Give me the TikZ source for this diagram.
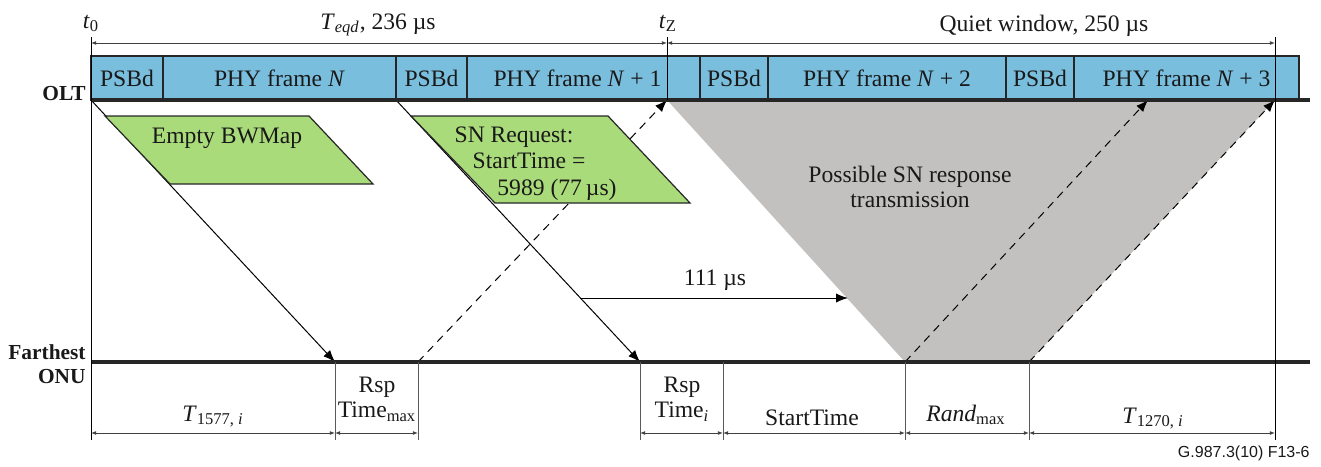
\documentclass[tikz,border=0pt]{standalone}
\usepackage{fontspec}
\setmainfont{Liberation Serif}
\newfontfamily\footfont{Liberation Sans}
\usetikzlibrary{arrows.meta}
\definecolor{barblue}{RGB}{122,190,222}
\definecolor{mapgreen}{RGB}{170,219,122}
\definecolor{zonegray}{RGB}{194,193,191}
\begin{document}
\begin{tikzpicture}[x=0.5pt,y=-0.5pt,
  every node/.style={font=\fontsize{11.8}{12.5}\selectfont,inner sep=0pt,text=black!90},
  cell/.style={draw=black!85,fill=barblue,line width=0.6pt,outer sep=0pt,minimum height=22pt,text depth=0pt,anchor=west},
  side/.style={font=\fontsize{10.7}{12}\selectfont\bfseries,align=right},
  sig/.style={-{Latex[length=6pt,width=4.6pt]},line width=0.5pt},
  dim/.style={{Latex[length=2.6pt,width=2pt]}-{Latex[length=2.6pt,width=2pt]},line width=0.45pt,black!75},
  msg/.style={draw=black!85,fill=mapgreen,line width=0.6pt},
  axis/.style={line width=1.6pt,black!85}]
\useasboundingbox (0,0) rectangle (1321,466);
\coordinate (t0top) at (91,37); \coordinate (olt0) at (91,100); \coordinate (t0bot) at (91,440);
\coordinate (tztop) at (667,37); \coordinate (tz) at (667,100);
\coordinate (qtop) at (1275,37); \coordinate (qend) at (1275,100); \coordinate (qbot) at (1275,440);
\coordinate (sn) at (396,100); \coordinate (q1) at (1148,100); \coordinate (oltend) at (1310,100);
\coordinate (onu0) at (91,362); \coordinate (arr1) at (335,362); \coordinate (rsp1) at (418,362);
\coordinate (arr2) at (640,362); \coordinate (rsp2) at (723,362); \coordinate (rnd0) at (905,362);
\coordinate (rnd1) at (1029,362); \coordinate (onuend) at (1310,362);
\coordinate (topy) at (0,43); \coordinate (dimy) at (0,433); \coordinate (tickend) at (0,440);
\coordinate (m1) at (580,298); \coordinate (m2) at (848,298);
\fill[zonegray] (tz) -- (qend) -- (rnd1) -- (rnd0) -- cycle;
\node[anchor=north,align=center] (possible) at (910,166) {Possible SN response\\transmission};
\draw[sig] (olt0) -- (arr1); \draw[sig] (sn) -- (arr2); \draw[sig] (m1) -- (m2);
\draw[sig,dash pattern=on 4pt off 3pt] (rsp1) -- (tz);
\draw[sig,dash pattern=on 4pt off 3pt] (rnd0) -- (q1);
\draw[sig,dash pattern=on 4pt off 3pt] (rnd1) -- (qend);
\filldraw[msg] (105,116) -- (309,116) -- (373,184) -- (170,184) -- cycle;
\filldraw[msg] (411,116) -- (608,116) -- (690,203) -- (495,203) -- cycle;
\node[anchor=base] (bwmap) at (227,143) {Empty BWMap};
\node[anchor=base] (snreq) at (514,142) {SN Request:};
\node[anchor=base] (snstart) at (529,168) {StartTime =};
\node[anchor=base] (snval) at (557,195) {5989 (77\,µs)};
\node[anchor=base] (delay) at (715,285) {111 µs};
\node[cell,minimum width=36pt] (psbA) at (olt0 |- 0,78) {PSBd};
\node[cell,minimum width=116.5pt] (frameA) at (psbA.east) {PHY frame \textit{N}};
\node[cell,minimum width=35.5pt] (psbB) at (frameA.east) {PSBd};
\node[cell,minimum width=116.5pt] (frameB) at (psbB.east) {\hspace{-6pt}PHY frame \textit{N} + 1};
\node[cell,minimum width=34pt] (psbC) at (frameB.east) {PSBd};
\node[cell,minimum width=119pt] (frameC) at (psbC.east) {PHY frame \textit{N} + 2};
\node[cell,minimum width=34pt] (psbD) at (frameC.east) {PSBd};
\node[cell,minimum width=112.5pt] (frameD) at (psbD.east) {PHY frame \textit{N} + 3};
\draw[axis] (olt0) -- (oltend); \draw[axis] (onu0) -- (onuend);
\draw[line width=0.5pt] (t0top) -- (t0bot); \draw[line width=0.5pt] (tztop) -- (tz); \draw[line width=0.5pt] (qtop) -- (qbot);
\foreach \p in {arr1,rsp1,arr2,rsp2,rnd0,rnd1} \draw[line width=0.5pt,black!65] (\p) -- (\p |- tickend);
\draw[dim] (t0top |- topy) -- (tztop |- topy); \draw[dim] (tztop |- topy) -- (qtop |- topy);
\foreach \a/\b in {onu0/arr1,arr1/rsp1,arr2/rsp2,rsp2/rnd0,rnd0/rnd1,rnd1/qbot} \draw[dim] (\a |- dimy) -- (\b |- dimy);
\node[side,anchor=base east] (olt) at (86,100) {OLT};
\node[side,anchor=north east] (onu) at (86,344) {Farthest\\ONU};
\node[anchor=base] (t0) at (91,28) {\textit{t}\textsubscript{0}};
\node[anchor=base] (teqd) at (378,29) {\textit{T}\textsubscript{\textit{eqd}}, 236 µs};
\node[anchor=base] (tzlab) at (668,28) {\textit{t}\textsubscript{Z}};
\node[anchor=base] (quiet) at (1044,32) {Quiet window, 250~µs};
\node[anchor=base] (tdown) at (213,421) {\textit{T}\textsubscript{1577,~\textit{i}}};
\node[anchor=north,align=center] (rspmax) at (377,377) {Rsp\\Time\textsubscript{max}};
\node[anchor=north,align=center] (rspi) at (682,377) {Rsp\\Time\textsubscript{\textit{i}}};
\node[anchor=base] (start) at (812,425) {StartTime};
\node[anchor=base] (rand) at (966,421) {\textit{Rand}\textsubscript{max}};
\node[anchor=base] (tup) at (1153,423) {\textit{T}\textsubscript{1270,~\textit{i}}};
\node[anchor=base east,font=\footfont\fontsize{8}{9}\selectfont] (figid) at (1310,457) {G.987.3(10) F13-6};
\end{tikzpicture}
\end{document}
